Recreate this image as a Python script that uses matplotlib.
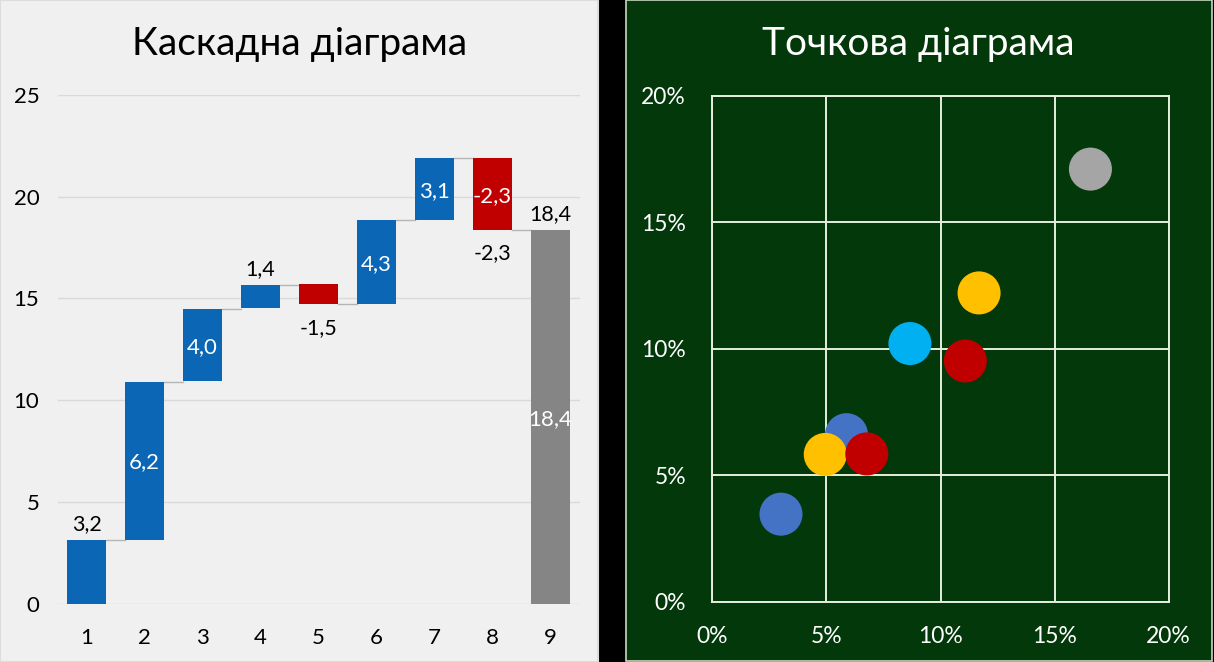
import matplotlib
matplotlib.use("Agg")
import matplotlib.pyplot as plt
from matplotlib.patches import Rectangle
from matplotlib.ticker import PercentFormatter, FixedLocator

plt.rcParams['font.family'] = ['Lato', 'DejaVu Sans']

# ---------------- data: waterfall ----------------
categories = [1, 2, 3, 4, 5, 6, 7, 8, 9]
bar_start = [0, 3.15, 10.95, 14.52, 15.70, 14.73, 18.88, 21.90, 0]
bar_end = [3.12, 10.91, 14.49, 15.68, 14.73, 18.88, 21.90, 18.38, 18.35]
is_total = [False, False, False, False, False, False, False, False, True]
inside_labels = [None, '6,2', '4,0', None, None, '4,3', '3,1', '-2,3', '18,4']
outside_labels = ['3,2', None, None, '1,4', '-1,5', None, None, '-2,3', '18,4']
wf_yticks = [0, 5, 10, 15, 20, 25]

# ---------------- data: scatter ----------------
sc_x = [0.0301, 0.0588, 0.0495, 0.0677, 0.0866, 0.1109, 0.1169, 0.1657]
sc_y = [0.0347, 0.0661, 0.0583, 0.0585, 0.1021, 0.0952, 0.1221, 0.1710]
sc_colors = ['#4472C4', '#4472C4', '#FFC000', '#C00000', '#00B0F0', '#C00000', '#FFC000', '#A5A5A5']
sc_ticks = [0, 0.05, 0.10, 0.15, 0.20]

W, H = 1214, 662
fig = plt.figure(figsize=(W / 100, H / 100), dpi=100, facecolor='black')

def fx(px):
    return px / W

def fy(py):
    return 1 - py / H

# panel backgrounds
fig.patches.append(Rectangle((0, 0), fx(598), 1, transform=fig.transFigure,
                             facecolor='#f0f0f0', edgecolor='#dcdcdc', lw=1.5, zorder=-5))
fig.patches.append(Rectangle((fx(626), fy(661)), fx(1211.5 - 626), fy(0) - fy(661),
                             transform=fig.transFigure, facecolor='#03380a',
                             edgecolor='#c8d8c0', lw=1.2, zorder=-5))

# ---------------- waterfall axes ----------------
ax1 = fig.add_axes([fx(57.5), fy(603.7), fx(579.5 - 57.5), fy(95) - fy(603.7)])
ax1.set_facecolor('none')
bar_w = 0.67
blue, red, grey = '#0b66b5', '#c00000', '#858585'
bottoms = [min(s, e) for s, e in zip(bar_start, bar_end)]
heights = [abs(e - s) for s, e in zip(bar_start, bar_end)]
colors = [grey if t else (blue if e >= s else red) for s, e, t in zip(bar_start, bar_end, is_total)]
ax1.bar(categories, heights, bottom=bottoms, width=bar_w, color=colors, zorder=3)

# connectors
for i in range(len(categories) - 1):
    ax1.plot([categories[i] + bar_w / 2, categories[i + 1] - bar_w / 2],
             [bar_end[i], bar_end[i]], color='#b5b5b5', lw=1.0, zorder=2)

# labels
for i, c in enumerate(categories):
    s, e = bar_start[i], bar_end[i]
    if inside_labels[i]:
        ax1.annotate(inside_labels[i], (c, (s + e) / 2), xytext=(0, -5.7),
                     textcoords='offset points', ha='center', va='baseline',
                     color='white', fontsize=16, zorder=4)
    if outside_labels[i]:
        if is_total[i] or e >= s:
            ax1.annotate(outside_labels[i], (c, max(s, e)), xytext=(0, 7.2),
                         textcoords='offset points', ha='center', va='baseline',
                         color='black', fontsize=15.5, zorder=4)
        else:
            ax1.annotate(outside_labels[i], (c, min(s, e)), xytext=(0, -21.4),
                         textcoords='offset points', ha='center', va='baseline',
                         color='black', fontsize=15.5, zorder=4)

ax1.set_xlim(0.5, 9.5)
ax1.set_ylim(0, 25)
ax1.set_xticks(categories)
ax1.set_xticklabels([str(c) for c in categories])
ax1.set_yticks(wf_yticks)
ax1.grid(axis='y', color='#d9d9d9', lw=1.0, zorder=0)
ax1.set_axisbelow(True)
for sp in ax1.spines.values():
    sp.set_visible(False)
ax1.tick_params(axis='both', length=0, labelsize=16, colors='black')
ax1.tick_params(axis='y', pad=13)
ax1.tick_params(axis='x', pad=17.5)

fig.text(fx(299.5), fy(55), 'Каскадна діаграма', ha='center', va='baseline',
         fontsize=28, color='black')

# ---------------- scatter axes ----------------
ax2 = fig.add_axes([fx(712.3), fy(602), fx(1168.7 - 712.3), fy(95.7) - fy(602)])
ax2.set_facecolor('none')
ax2.scatter(sc_x, sc_y, s=960, c=sc_colors, edgecolors='none', zorder=3)
ax2.set_xlim(0, 0.2)
ax2.set_ylim(0, 0.2)
ax2.xaxis.set_major_locator(FixedLocator(sc_ticks))
ax2.yaxis.set_major_locator(FixedLocator(sc_ticks))
ax2.xaxis.set_major_formatter(PercentFormatter(xmax=1, decimals=0))
ax2.yaxis.set_major_formatter(PercentFormatter(xmax=1, decimals=0))
ax2.grid(True, color='#e6eedd', lw=1.4, zorder=1)
ax2.set_axisbelow(True)
for sp in ax2.spines.values():
    sp.set_color('#e6eedd')
    sp.set_linewidth(1.4)
ax2.tick_params(axis='both', length=0, labelsize=16.5, colors='white')
ax2.tick_params(axis='y', pad=19)
ax2.tick_params(axis='x', pad=17)

fig.text(fx(918.5), fy(54.5), 'Точкова діаграма', ha='center', va='baseline',
         fontsize=28, color='white')

fig.savefig('out.png', dpi=100, facecolor=fig.get_facecolor())
